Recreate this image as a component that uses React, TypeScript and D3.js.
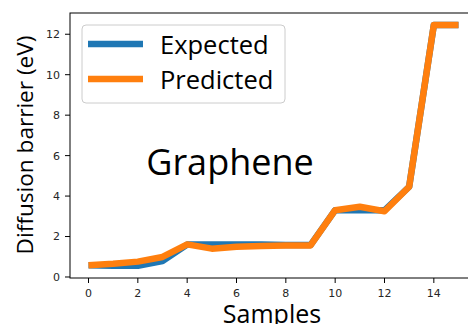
import React from 'react'
import * as d3 from 'd3'

const samples = [0, 1, 2, 3, 4, 5, 6, 7, 8, 9, 10, 11, 12, 13, 14, 15]
const expected = [0.58, 0.56, 0.55, 0.79, 1.6, 1.6, 1.6, 1.6, 1.58, 1.58, 3.3, 3.3, 3.3, 4.46, 12.46, 12.46]
const predicted = [0.58, 0.65, 0.76, 0.99, 1.61, 1.4, 1.5, 1.53, 1.56, 1.56, 3.3, 3.47, 3.25, 4.46, 12.46, 12.46]
const xTicks = [0, 2, 4, 6, 8, 10, 12, 14]
const yTicks = [0, 2, 4, 6, 8, 10, 12]

const W = 468
const H = 324

export default function App() {
  // plot box (right edge falls outside the window, like the original)
  const left = 70, top = 13, bottom = 278, right = 477
  const x = d3.scaleLinear().domain([-0.75, 15.75]).range([left, right])
  const y = d3.scaleLinear().domain([-0.05, 13.05]).range([bottom, top])

  const line = d3.line<number>()
    .x((d, i) => x(samples[i]))
    .y(d => y(d))

  const tickFont = 'DejaVu Sans, sans-serif'
  const labelFont = 'Open Sans, sans-serif'

  return (
    <svg width={W} height={H} style={{ position: 'absolute', left: 0, top: 0, background: '#fff' }}>
      <rect x={0} y={0} width={W} height={H} fill="#fff" />
      <defs>
        <clipPath id="plot">
          <rect x={left} y={top} width={right - left} height={bottom - top} />
        </clipPath>
      </defs>

      <g clipPath="url(#plot)">
        <path d={line(expected) ?? ''} fill="none" stroke="#1f77b4" strokeWidth={6.5} strokeLinejoin="round" />
        <path d={line(predicted) ?? ''} fill="none" stroke="#ff7f0e" strokeWidth={6.5} strokeLinejoin="round" />
      </g>

      {/* frame */}
      <rect x={left} y={top} width={right - left} height={bottom - top} fill="none" stroke="#000" strokeWidth={1} />

      {/* y axis */}
      {yTicks.map(t => (
        <g key={'y' + t}>
          <line x1={left - 5} x2={left} y1={y(t)} y2={y(t)} stroke="#000" />
          <text x={left - 10} y={y(t)} dy="0.36em" textAnchor="end" fontSize={11} fontFamily={tickFont} fill="#262626">{t}</text>
        </g>
      ))}

      {/* x axis */}
      {xTicks.map(t => (
        <g key={'x' + t}>
          <line x1={x(t)} x2={x(t)} y1={bottom} y2={bottom + 5} stroke="#000" />
          <text x={x(t)} y={bottom + 19} textAnchor="middle" fontSize={11} fontFamily={tickFont} fill="#262626">{t}</text>
        </g>
      ))}

      <text x={272} y={323} textAnchor="middle" fontSize={25} fontFamily={labelFont} fill="#000">Samples</text>
      <text transform={`translate(33,145) rotate(-90)`} textAnchor="middle" fontSize={22.6} fontFamily={labelFont} fill="#000">Diffusion barrier (eV)</text>

      <text x={230} y={175} textAnchor="middle" fontSize={36} fontFamily={labelFont} fill="#000">Graphene</text>

      {/* legend */}
      <rect x={82} y={25} width={203} height={78} rx={4} fill="#fff" fillOpacity={0.8} stroke="#ccc" />
      <line x1={88} x2={143} y1={44} y2={44} stroke="#1f77b4" strokeWidth={6.5} />
      <line x1={88} x2={143} y1={79} y2={79} stroke="#ff7f0e" strokeWidth={6.5} />
      <text x={160} y={54} fontSize={25.5} fontFamily={labelFont} fill="#000">Expected</text>
      <text x={160} y={89} fontSize={25.5} fontFamily={labelFont} fill="#000">Predicted</text>
    </svg>
  )
}
